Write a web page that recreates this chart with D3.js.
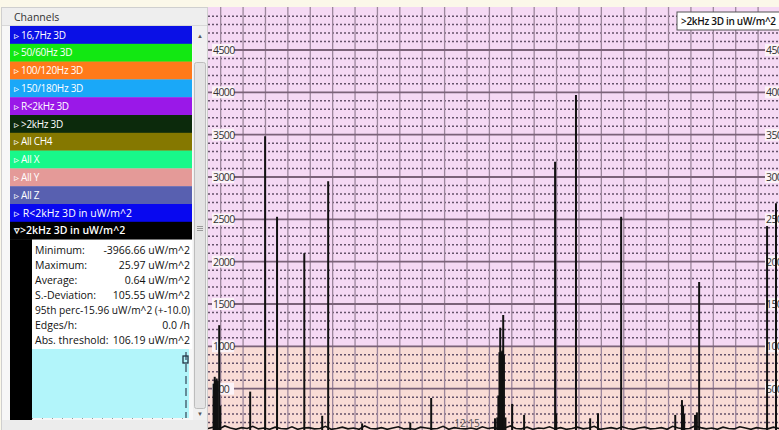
<!DOCTYPE html>
<html><head><meta charset="utf-8">
<script src="https://cdn.jsdelivr.net/npm/d3@7"></script>
<style>
html,body{margin:0;padding:0;background:#fbf8e9;overflow:hidden;}
svg{display:block;}
text{font-family:"Open Sans","Noto Sans",sans-serif;}
</style></head><body>
<svg id="chart" width="779" height="430"></svg>
<script>
// ---------------- data ----------------
const channelNames = ["16,7Hz 3D","50/60Hz 3D","100/120Hz 3D","150/180Hz 3D","R<2kHz 3D",">2kHz 3D","All CH4","All X","All Y","All Z","R<2kHz 3D in uW/m^2",">2kHz 3D in uW/m^2"];
const channelColors = ["#0a10e6","#12e812","#ff7a1a","#1aa8f8","#9a18e8","#0c2a0c","#857800","#18f88a","#e49a98","#5860b0","#0808f0","#000000"];
const statLabels = ["Minimum:","Maximum:","Average:","S.-Deviation:","95th perc","Edges/h:","Abs. threshold:"];
const statValues = ["-3966.66 uW/m^2","25.97 uW/m^2","0.64 uW/m^2","105.55 uW/m^2","-15.96 uW/m^2 (+-10.0)","0.0 /h","106.19 uW/m^2"];
const yMajorTicks = [500,1000,1500,2000,2500,3000,3500,4000,4500];
const yTickLabels = ["500","1000","1500","2000","2500","3000","3500","4000","4500"];
const xTickTimes = ["12:15:00"];
const xTickLabels = ["12:15"];
const seriesName = ">2kHz 3D in uW/m^2";
const spikeTimes = ["12:03:41","12:03:44","12:03:46","12:03:49","12:03:52","12:03:56","12:03:59","12:05:19","12:05:59","12:06:31","12:07:44","12:08:32","12:08:48","12:10:19","12:12:28","12:13:24","12:16:15","12:16:21","12:16:24","12:16:27","12:16:29","12:16:31","12:16:33","12:16:35","12:16:37","12:16:39","12:16:43","12:17:01","12:17:33","12:18:56","12:18:59","12:19:52","12:20:30","12:20:51","12:21:53","12:24:18","12:24:36","12:24:39","12:24:42","12:25:11","12:25:16","12:25:22","12:28:24","12:28:48"];
const spikeValues = [560,640,600,620,590,1250,300,465,3480,2530,2100,180,2950,90,100,390,150,160,420,930,1220,940,920,950,1370,900,160,320,190,3180,210,3970,150,210,2530,190,365,300,200,190,220,1760,2420,2690];
const baseStart = "12:03:26";
const baseStepSeconds = 15;
const baseValues = [30,45,25,60,35,20,40,30,55,25,35,20,45,30,25,50,20,35,40,25,30,55,20,30,45,25,35,20,60,30,25,40,20,35,50,25,30,20,45,35,25,30,55,20,40,30,25,35,20,50,30,40,25,35,60,30,25,45,20,35,30,50,25,40,20,30,45,25,35,55,20,30,40,25,50,30,20,35,45,25,30,40,20,55,35,25,30,60,40,25,35,20,45,30,25,50,35,20,40,30,25,45,30];
const timeDomain = ["12:03:26","12:28:56"];
const valueDomain = [0,5000];

// ---------------- drawing ----------------
const svg = d3.select("#chart");
const W = 779, H = 430;
const parse = d3.timeParse("%H:%M:%S");

svg.append("rect").attr("width",W).attr("height",H).attr("fill","#fbf8e9");

// ---- chart area ----
const cL = 208, cR = 779, cT = 7, cB = 430;
const x = d3.scaleTime().domain(timeDomain.map(parse)).range([cL, cR]);
const y = d3.scaleLinear().domain(valueDomain).range([431, 7.67]);

svg.append("clipPath").attr("id","cclip").append("rect")
  .attr("x",cL).attr("y",cT).attr("width",cR-cL).attr("height",cB-cT);
const g = svg.append("g").attr("clip-path","url(#cclip)");

g.append("rect").attr("x",cL).attr("y",cT).attr("width",cR-cL).attr("height",y(1000)-cT).attr("fill","#f5d9f4");
g.append("rect").attr("x",cL).attr("y",y(1000)).attr("width",cR-cL).attr("height",cB-y(1000)).attr("fill","#f9dcd6");

// minor dotted lines every 100
const minor = d3.range(100, 5000, 100).filter(v => v % 500 !== 0);
g.selectAll(".minor").data(minor).enter().append("line")
  .attr("x1",cL).attr("x2",cR).attr("y1",d=>y(d)).attr("y2",d=>y(d))
  .attr("stroke","#65526a").attr("stroke-width",1.5).attr("stroke-dasharray","2,2");

// vertical grid every minute
const vt = x.ticks(d3.timeMinute.every(1));
g.selectAll(".vg").data(vt).enter().append("line")
  .attr("x1",d=>x(d)).attr("x2",d=>x(d)).attr("y1",cT).attr("y2",cB)
  .attr("stroke","#9c869c").attr("stroke-width",1.3);

// major lines
g.selectAll(".maj").data(yMajorTicks).enter().append("line")
  .attr("x1",cL).attr("x2",765).attr("y1",d=>y(d)).attr("y2",d=>y(d))
  .attr("stroke","#7a6278").attr("stroke-width",1.8);

// y labels left & right
function yLabels(xPos, cls){
  const lg = g.selectAll("."+cls).data(yMajorTicks).enter().append("g").attr("class",cls)
    .attr("transform",d=>`translate(${xPos},${y(d)})`);
  lg.append("rect").attr("x",-1).attr("y",-6).attr("width",22).attr("height",12).attr("fill","#fbf3f8");
  lg.append("text").attr("x",0).attr("y",4).attr("font-size","10.5px").attr("letter-spacing","-0.6px")
    .attr("fill","#333").text((d,i)=>yTickLabels[i]);
}
yLabels(213, "yl");
yLabels(766, "yr");

// x label
g.selectAll(".xl").data(xTickTimes).enter().append("text")
  .attr("x",d=>x(parse(d))).attr("y",427).attr("text-anchor","middle")
  .attr("font-size","10px").attr("fill","#555").text((d,i)=>xTickLabels[i]);

// baseline noise
const t0 = parse(baseStart);
const basePts = baseValues.map((v,i)=>[d3.timeSecond.offset(t0, i*baseStepSeconds), v]);
g.append("path").datum(basePts)
  .attr("d", d3.line().x(d=>x(d[0])).y(d=>y(d[1])))
  .attr("fill","none").attr("stroke","#111").attr("stroke-width",1.6);

// spikes
g.selectAll(".sp").data(spikeTimes).enter().append("line")
  .attr("x1",d=>x(parse(d))).attr("x2",d=>x(parse(d)))
  .attr("y1",y(0)).attr("y2",(d,i)=>y(spikeValues[i]))
  .attr("stroke","#111").attr("stroke-width",2);

// legend box
const lgd = g.append("g").attr("transform","translate(677,12)");
lgd.append("rect").attr("x",0).attr("y",0).attr("width",120).attr("height",18)
  .attr("fill","#ffffff").attr("stroke","#555").attr("stroke-width",1);
lgd.append("text").attr("x",4).attr("y",13).attr("font-size","10px").attr("font-weight","600")
  .attr("letter-spacing","-0.3px")
  .attr("fill","#111").text(seriesName);

// ---- left panel ----
const p = svg.append("g");
p.append("rect").attr("x",1.5).attr("y",7.5).attr("width",206).attr("height",423).attr("fill","#f7f7f7").attr("stroke","#cfcfcf");
p.append("rect").attr("x",2).attr("y",8).attr("width",205).attr("height",17).attr("fill","#eeeeee");
p.append("line").attr("x1",2).attr("x2",207).attr("y1",25.5).attr("y2",25.5).attr("stroke","#d8d8d8");
p.append("text").attr("x",14).attr("y",21).attr("font-size","10.5px").attr("fill","#333").text("Channels");

const rowH = 17.8, row0 = 26;
const rows = p.selectAll(".row").data(channelNames).enter().append("g")
  .attr("transform",(d,i)=>`translate(10,${row0 + i*rowH})`);
rows.append("rect").attr("width",182).attr("height",rowH+0.3).attr("fill",(d,i)=>channelColors[i]);
rows.append("text").attr("x",4).attr("y",12.5)
  .attr("font-size",(d,i)=> i>=10 ? "10.5px" : "10px")
  .attr("font-weight",(d,i)=> i===11 ? "600" : "normal")
  .attr("letter-spacing",(d,i)=> i>=10 ? "0px" : "-0.3px")
  .attr("fill","#ffffff")
  .text((d,i)=> (i===11 ? "\u25BF" : "\u25B9 ") + d);

// expanded section
const eTop = row0 + 12*rowH;
p.append("rect").attr("x",10).attr("y",eTop).attr("width",22).attr("height",420-eTop).attr("fill","#000");
p.append("rect").attr("x",32).attr("y",eTop).attr("width",160).attr("height",349-eTop).attr("fill","#ffffff");
p.append("rect").attr("x",32).attr("y",349).attr("width",157).attr("height",69).attr("fill","#b2f5fa");
p.append("line").attr("x1",186).attr("x2",186).attr("y1",352).attr("y2",418)
  .attr("stroke","#345").attr("stroke-width",1.2).attr("stroke-dasharray","8,4");
p.append("rect").attr("x",183).attr("y",356).attr("width",5).attr("height",7).attr("fill","none").attr("stroke","#234").attr("stroke-width",1.3);
p.append("line").attr("x1",32).attr("x2",189).attr("y1",418.5).attr("y2",418.5)
  .attr("stroke","#999").attr("stroke-dasharray","1,9");

const st = p.selectAll(".st").data(statLabels).enter().append("g")
  .attr("transform",(d,i)=>`translate(0,${eTop + 14 + i*15})`);
// the 95th-percentile row is one joined line in the original
st.filter((d,i)=>i!==4).append("text").attr("x",35).attr("y",0).attr("font-size","10.5px").attr("fill","#111").text(d=>d);
st.filter((d,i)=>i!==4).append("text").attr("x",190).attr("y",0).attr("text-anchor","end").attr("font-size","10.5px")
  .attr("fill","#111").text(d=>statValues[statLabels.indexOf(d)]);
st.filter((d,i)=>i===4).append("text").attr("x",35).attr("y",0).attr("font-size","10.5px")
  .attr("textLength",155).attr("lengthAdjust","spacingAndGlyphs")
  .attr("fill","#111").text(d=>d + statValues[statLabels.indexOf(d)]);

// scrollbar
p.append("rect").attr("x",193).attr("y",26).attr("width",14).attr("height",394).attr("fill","#f0f0f0");
p.append("rect").attr("x",194.5).attr("y",62.5).attr("width",11).attr("height",346).attr("rx",2)
  .attr("fill","#e4e4e4").attr("stroke","#bdbdbd");
p.append("text").attr("x",200).attr("y",38).attr("text-anchor","middle").attr("font-size","6px").attr("fill","#555").text("\u25B2");
p.append("text").attr("x",200).attr("y",416).attr("text-anchor","middle").attr("font-size","6px").attr("fill","#555").text("\u25BC");
[226,228,230].forEach(v=>p.append("line").attr("x1",197).attr("x2",203).attr("y1",v+0.5).attr("y2",v+0.5).attr("stroke","#999"));
p.append("rect").attr("x",2).attr("y",420).attr("width",205).attr("height",10).attr("fill","#ececec");
</script></body></html>
